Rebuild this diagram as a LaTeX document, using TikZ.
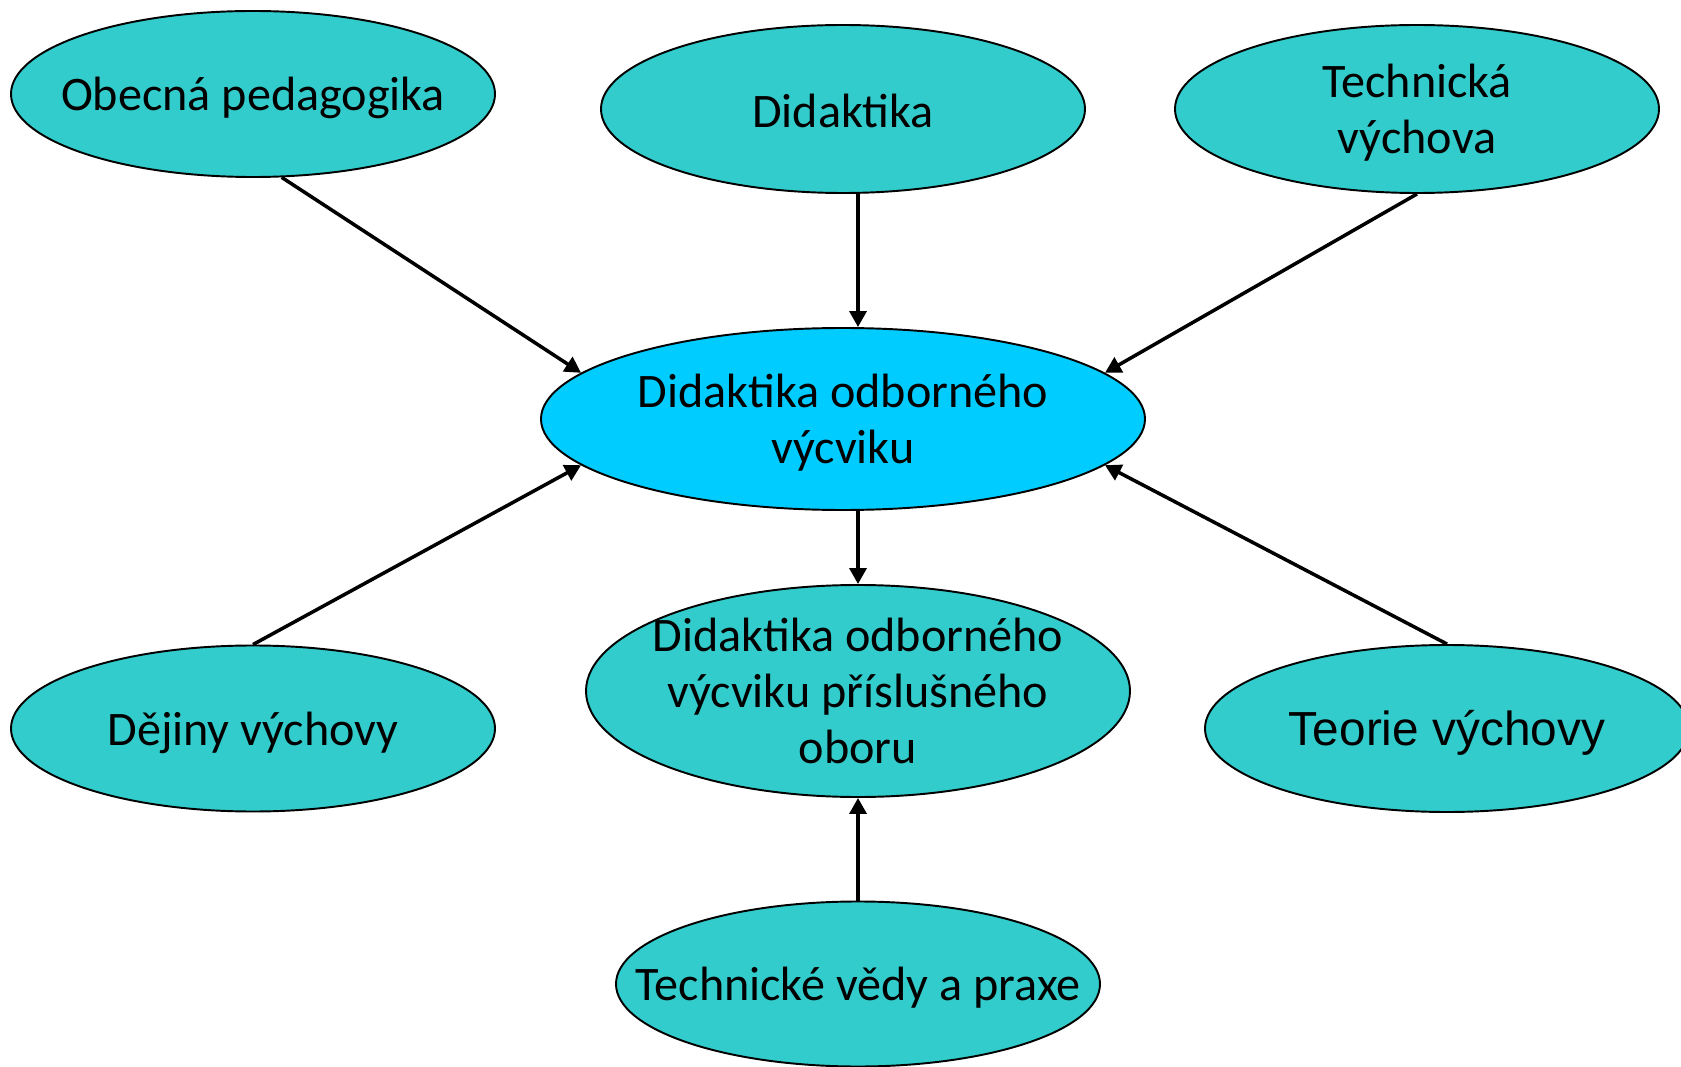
\documentclass[tikz,border=0pt]{standalone}
\usepackage{fontspec}
\setmainfont{Carlito}
\newfontfamily\arialfont{Liberation Sans}
\usetikzlibrary{shapes.geometric,arrows.meta,calc}
\definecolor{tyrkys}{RGB}{51,204,204}
\definecolor{azur}{RGB}{0,204,255}

\begin{document}
\begin{tikzpicture}[
  bub/.style={ellipse, draw, line width=1.1pt, fill=tyrkys, inner sep=0pt,
    minimum width=9.68cm, minimum height=3.32cm},
  txt/.style={align=center, yshift=-0.08cm, font=\fontsize{27.4}{32}\selectfont},
  sipka/.style={-{Triangle[length=0.32cm,width=0.34cm]}, line width=2pt}
]
\useasboundingbox (0,0) rectangle (33.62,-21.34);
% okolni obory
\node[bub, label={[txt]center:Obecná pedagogika}] (obecna) at (5.06,-1.88) {};
\node[bub, minimum height=3.36cm, label={[txt, yshift=0.04cm]center:Didaktika}] (didaktika) at (16.86,-2.18) {};
\node[bub, minimum height=3.36cm, label={[txt]center:Technická\\výchova}] (technicka) at (28.34,-2.18) {};
\node[bub, label={[txt]center:Dějiny výchovy}] (dejiny) at (5.06,-14.57) {};
\node[bub, minimum height=3.34cm, label={[txt, font=\arialfont\fontsize{27.2}{32}\selectfont]center:Teorie výchovy}] (teorie) at (28.94,-14.57) {};
\node[bub, minimum height=3.3cm, label={[txt]center:Technické vědy a praxe}] (vedy) at (17.16,-19.68) {};
% stred
\node[bub, fill=azur, minimum width=12.08cm, minimum height=3.64cm,
  label={[txt]center:Didaktika odborného\\výcviku}] (dov) at (16.86,-8.38) {};
\node[bub, minimum width=10.88cm, minimum height=4.24cm,
  label={[txt, yshift=0.08cm]center:Didaktika odborného\\ výcviku příslušného\\oboru}] (prislusny) at (17.16,-13.82) {};
% sipky
\draw[sipka] (obecna.-71) -- (dov.170);
\draw[sipka] (prislusny |- didaktika.south) -- (prislusny |- dov.north);
\draw[sipka] (technicka.south) -- (dov.10);
\draw[sipka] (dejiny.north) -- (dov.190);
\draw[sipka] (teorie.north) -- (dov.350);
\draw[sipka] (prislusny |- dov.south) -- (prislusny.north);
\draw[sipka] (vedy.north) -- (prislusny.south);
\end{tikzpicture}
\end{document}
